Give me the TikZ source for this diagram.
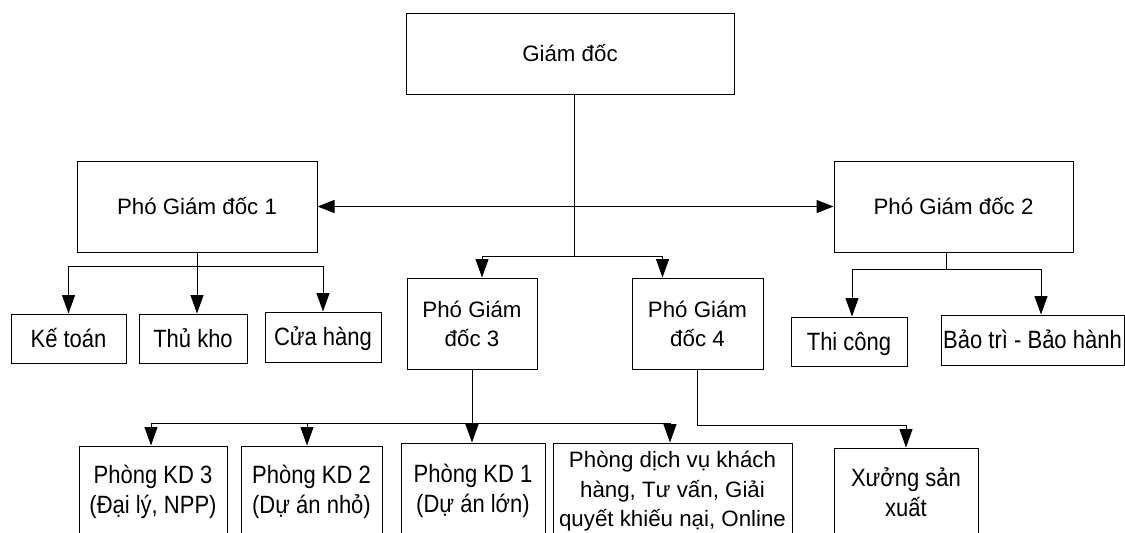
\documentclass[tikz,border=0pt]{standalone}
\usepackage{fontspec}
\setmainfont{Liberation Sans}
\newfontfamily\narrowfont[FakeStretch=0.88]{Liberation Sans}
\usetikzlibrary{arrows.meta,calc}
\begin{document}
\begin{tikzpicture}[x=1pt,y=-1pt,
  box/.style={draw=black, line width=1pt, rectangle, inner sep=0pt, align=center},
  upper/.style={font=\fontsize{22.3}{29}\selectfont},
  lower/.style={font=\narrowfont\fontsize{25}{30}\selectfont},
  upperone/.style={upper, text height=16pt, text depth=0pt},
  lowerone/.style={lower, text height=17.9pt, text depth=0pt},
  link/.style={line width=1pt},
  arr/.style={line width=1pt, -{Triangle[length=18.5pt,width=13pt]}},
  arrtwo/.style={line width=1pt, {Triangle[length=17pt,width=13pt]}-{Triangle[length=17pt,width=13pt]}}]
\useasboundingbox (0,0) rectangle (1125,533);
\clip (0,0) rectangle (1125,533);
\fill[white] (0,0) rectangle (1125,533);

% nodes
\node[box,upperone,minimum width=328pt,minimum height=81pt] (gd) at (570,53.5) {Giám đốc};
\node[box,upperone,minimum width=240pt,minimum height=91pt] (pgd1) at (197,206.5) {Phó Giám đốc 1};
\node[box,upperone,minimum width=239pt,minimum height=91pt] (pgd2) at (953.5,206.5) {Phó Giám đốc 2};
\node[box,lowerone,minimum width=115pt,minimum height=49pt] (kt) at (68.5,338.5) {Kế toán};
\node[box,lowerone,minimum width=108pt,minimum height=49pt] (tk) at (193,338.5) {Thủ kho};
\node[box,lowerone,minimum width=116pt,minimum height=50pt] (ch) at (323,337) {Cửa hàng};
\node[box,upper,minimum width=130pt,minimum height=91pt] (pgd3) at (472,323.5) {Phó Giám\\đốc 3};
\node[box,upper,minimum width=131pt,minimum height=91pt] (pgd4) at (697.5,323.5) {Phó Giám\\đốc 4};
\node[box,lowerone,minimum width=116pt,minimum height=49pt] (tc) at (849,341.5) {Thi công};
\node[box,lowerone,minimum width=183pt,minimum height=50pt] (bt) at (1032.5,340) {Bảo trì - Bảo hành};
\node[box,lower,minimum width=148pt,minimum height=92pt] (kd3) at (153,492) {Phòng KD 3\\(Đại lý, NPP)};
\node[box,lower,minimum width=141pt,minimum height=92pt] (kd2) at (311.5,492) {Phòng KD 2\\(Dự án nhỏ)};
\node[box,lower,minimum width=144pt,minimum height=96pt] (kd1) at (473,491) {Phòng KD 1\\(Dự án lớn)};
\node[box,font=\fontsize{22.3}{29.5}\selectfont,minimum width=239pt,minimum height=97pt] (dv) at (672.5,491.5) {Phòng dịch vụ khách\\hàng, Tư vấn, Giải\\quyết khiếu nại, Online};
\node[box,lower,minimum width=144pt,minimum height=88pt] (xs) at (906,492) {Xưởng sản\\xuất};

% junctions
\coordinate (j0) at (574,256);
\coordinate (j1) at (197,266);
\coordinate (j2) at (946,269);
\coordinate (j3) at (472,423);
\coordinate (j4) at (697.5,425);

% connectors
\draw[link] (gd.south -| j0) -- (j0);
\draw[arr] (j0) -| ($(pgd3.north)+(10,0)$);
\draw[arr] (j0) -| ($(pgd4.north)+(-35,0)$);
\draw[arrtwo] (pgd1.east) -- (pgd2.west);

\draw[link] (pgd1.south) -- (j1);
\draw[arr] (j1) -| (kt.north);
\draw[arr] (j1) -- (j1 |- tk.north);
\draw[arr] (j1) -| (ch.north);

\draw[link] (pgd2.south -| j2) -- (j2);
\draw[arr] (j2) -| ($(tc.north)+(3,0)$);
\draw[arr] (j2) -| ($(bt.north)+(8.5,0)$);

\draw[link] (pgd3.south) -- (j3);
\draw[arr] (j3) -| ($(kd3.north)+(-2,0)$);
\draw[arr] (j3) -| ($(kd2.north)+(-4.5,0)$);
\draw[arr] (j3) -- (j3 |- kd1.north);
\draw[arr] (j3) -| ($(dv.north)+(-2.5,0)$);

\draw[arr] (pgd4.south) -- (j4) -| (xs.north);
\end{tikzpicture}
\end{document}
